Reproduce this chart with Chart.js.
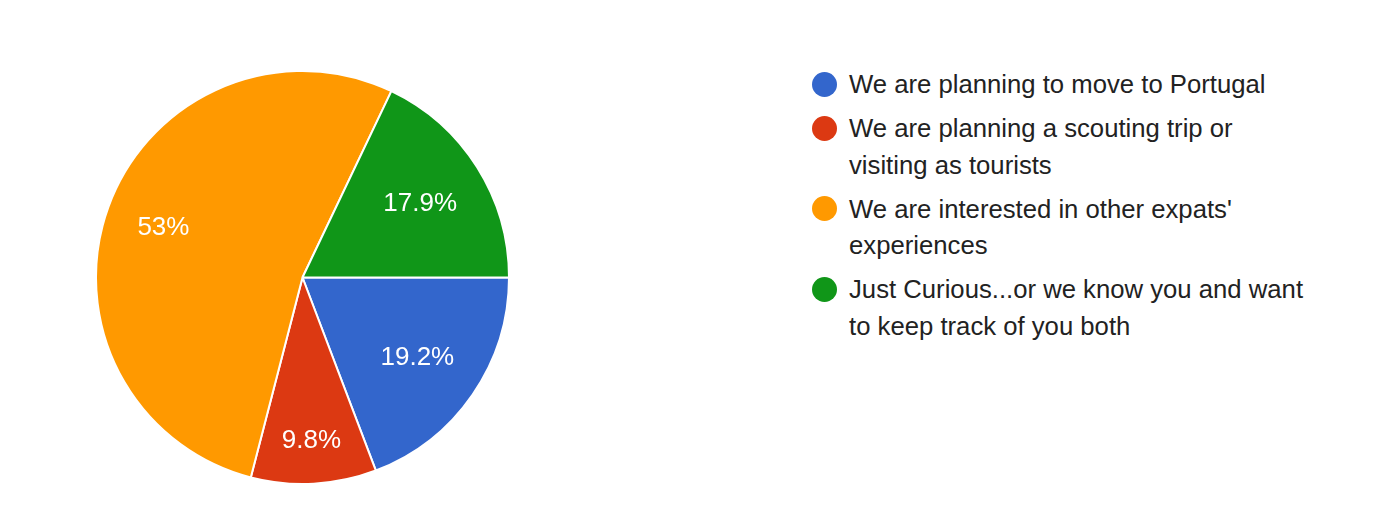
<!DOCTYPE html>
<html>
<head>
<meta charset="utf-8">
<script src="https://cdn.jsdelivr.net/npm/chart.js@4.4.1/dist/chart.umd.min.js"></script>
<style>
  html, body { margin: 0; padding: 0; background: #fff; }
  body { width: 1388px; height: 528px; position: relative; overflow: hidden;
         font-family: 'Liberation Sans', Arial, sans-serif; }
  #pie-wrap { position: absolute; left: 95px; top: 70px; width: 415px; height: 415px; }
  #legend { position: absolute; left: 812px; top: 66px; margin: 0; padding: 0; list-style: none; }
  #legend li { display: flex; align-items: flex-start; margin-bottom: 8px; }
  #legend .dot { flex: none; width: 25px; height: 25px; border-radius: 50%; margin-top: 5.5px; }
  #legend .txt { margin-left: 12px; max-width: 461px; font-size: 25.7px; line-height: 36.3px; color: #222; }
</style>
</head>
<body>
<div id="pie-wrap"><canvas id="pie"></canvas></div>
<ul id="legend"></ul>
<script>
// ── Data ──
const categories = [
  'We are planning to move to Portugal',
  'We are planning a scouting trip or visiting as tourists',
  "We are interested in other expats' experiences",
  'Just Curious...or we know you and want to keep track of you both',
];
const shares = [19.2, 9.8, 53, 17.9];
const colors = ['#3366cc', '#dc3912', '#ff9900', '#109618'];

// ── Slice labels: text box outer corner sits at ~0.85 R on the bisector ──
const sliceLabels = {
  id: 'sliceLabels',
  afterDatasetsDraw(chart) {
    const ctx = chart.ctx;
    const meta = chart.getDatasetMeta(0);
    ctx.save();
    ctx.font = '26px "Liberation Sans", Arial, sans-serif';
    ctx.fillStyle = '#fff';
    ctx.textAlign = 'center';
    ctx.textBaseline = 'middle';
    meta.data.forEach((arc, i) => {
      const { x, y, startAngle, endAngle, outerRadius } = arc.getProps(['x', 'y', 'startAngle', 'endAngle', 'outerRadius'], true);
      const mid = (startAngle + endAngle) / 2;
      const cx = Math.cos(mid), cy = Math.sin(mid);
      const text = shares[i] + '%';
      const hw = ctx.measureText(text).width / 2;
      const hh = 9;
      const D = outerRadius * 0.85;
      const b = Math.abs(cx) * hw + Math.abs(cy) * hh;
      const c = hw * hw + hh * hh - D * D;
      const r = -b + Math.sqrt(b * b - c);
      ctx.fillText(text, x + cx * r, y + cy * r + 1);
    });
    ctx.restore();
  },
};

new Chart(document.getElementById('pie'), {
  type: 'pie',
  data: {
    labels: categories,
    datasets: [{
      data: shares,
      backgroundColor: colors,
      borderColor: '#fff',
      borderWidth: 2,
    }],
  },
  options: {
    responsive: true,
    maintainAspectRatio: false,
    animation: false,
    rotation: 90,
    plugins: {
      legend: { display: false },
      tooltip: { enabled: false },
    },
  },
  plugins: [sliceLabels],
});

// ── HTML legend (wrapping text) ──
const legendEl = document.getElementById('legend');
categories.forEach((name, i) => {
  const li = document.createElement('li');
  li.innerHTML = `<span class="dot" style="background:${colors[i]}"></span><span class="txt">${name}</span>`;
  legendEl.appendChild(li);
});
</script>
</body>
</html>
